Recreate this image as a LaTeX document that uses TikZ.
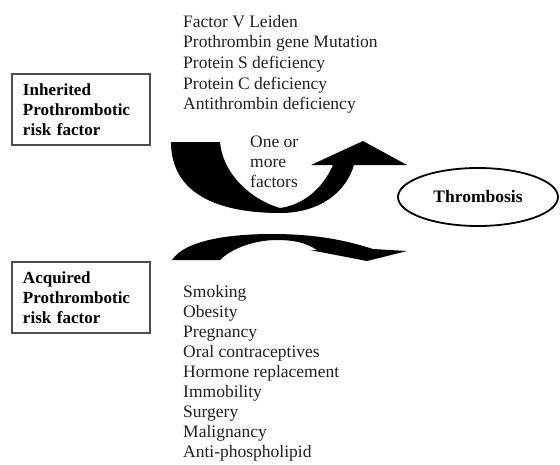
\documentclass[tikz,border=0pt]{standalone}
\usepackage{fontspec}
\setmainfont{Liberation Serif}
\usetikzlibrary{shapes.geometric}
\begin{document}
\begin{tikzpicture}[
            x=1pt, y=-1pt,
            risk box/.style={draw=black!70, line width=1.4pt, minimum width=138pt, minimum height=71pt, text width=116pt, align=left, inner sep=0pt, font=\fontsize{17}{19.8}\selectfont\bfseries},
            list item/.style={anchor=base west, inner sep=0pt, font=\fontsize{17.5}{20}\selectfont, text=black!88},
            outcome/.style={ellipse, draw, line width=1.8pt, minimum width=160pt, minimum height=58pt, inner sep=0pt, font=\fontsize{17.5}{20}\selectfont\bfseries},
            block arrow/.style={fill=black, draw=none},
        ]
            \useasboundingbox (0,0) rectangle (560,464);

            \node[risk box] (inherited) at (81,109.5) {Inherited\\Prothrombotic\\risk factor};
            \node[risk box] (acquired) at (81,297.5) {Acquired\\Prothrombotic\\risk factor};
            \node[outcome] (thrombosis) at (478,197) {Thrombosis};

            % inherited factors
            \foreach \risk [count=\i from 0] in {Factor V Leiden, Prothrombin gene Mutation, Protein S deficiency, Protein C deficiency, Antithrombin deficiency}
                \node[list item] (inh\i) at (183,{27+20.7*\i}) {\risk};

            % acquired factors
            \foreach \risk [count=\i from 0] in {Smoking, Obesity, Pregnancy, Oral contraceptives, Hormone replacement, Immobility, Surgery, Malignancy, Anti-phospholipid}
                \node[list item] (acq\i) at (183,{297+20*\i}) {\risk};

            \node[anchor=north west, inner sep=0pt, align=left, font=\fontsize{17.5}{20}\selectfont, text=black!88] (factors) at (250,136) {One or\\more\\factors};

            % curved block arrows
            \fill[block arrow] (171,142) .. controls (171,192) and (215,213) .. (280,213)
                .. controls (320,213) and (346,192) .. (354,165) -- (407,165) -- (363,141) -- (311,165) -- (333,165)
                .. controls (322,190) and (302,205) .. (280,208)
                .. controls (252,200) and (223,175) .. (220,142) -- cycle;
            \fill[block arrow] (172,260) .. controls (185,240) and (230,234) .. (272,234)
                .. controls (315,234) and (345,240) .. (373,249) -- (407,251) -- (367,261) -- (310,250) -- (317,250)
                .. controls (305,242) and (292,240) .. (277,240)
                .. controls (255,240) and (232,248) .. (220,260) -- cycle;
        \end{tikzpicture}
\end{document}
